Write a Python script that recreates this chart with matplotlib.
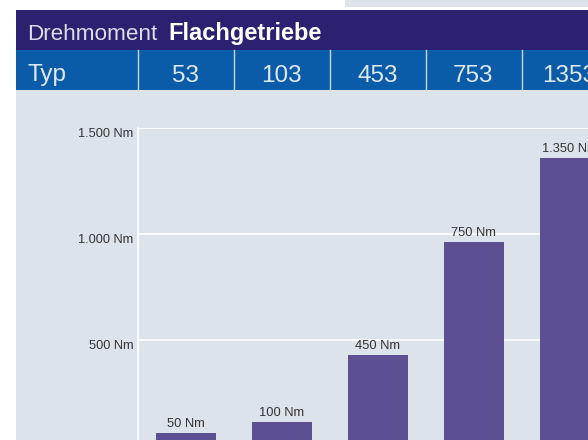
import matplotlib.pyplot as plt
from matplotlib.patches import Rectangle
from matplotlib.ticker import FuncFormatter

types = ['53', '103', '453', '753', '1353']
torque_labels = ['50 Nm', '100 Nm', '450 Nm', '750 Nm', '1.350 Nm']
# bar heights as drawn in the graphic, read against the grid
bar_heights = [64, 115, 431, 964, 1361]
y_ticks = [500, 1000, 1500]

W, H = 588, 440
purple = '#2c2170'
blue = '#0b5ca8'
bg = '#dde3ea'
bar_color = '#5d5092'

plt.rcParams['font.family'] = ['Liberation Sans', 'DejaVu Sans']

fig = plt.figure(figsize=(W / 100, H / 100), dpi=100)


def box(x0, y0, x1, y1, color):
    # pixel coords from top-left
    fig.add_artist(Rectangle((x0 / W, 1 - y1 / H), (x1 - x0) / W, (y1 - y0) / H,
                             transform=fig.transFigure, facecolor=color,
                             edgecolor='none', zorder=0))


box(345, 0, W, 7.5, bg)
box(16, 10, W, 50.5, purple)
box(16, 50.5, W, 90.5, blue)
box(16, 90.5, W, H, bg)

# header texts
fig.text(27 / W, 1 - 40 / H, 'Drehmoment', color='#dedbea', fontsize=16.2,
         va='baseline', ha='left')
fig.text(168.5 / W, 1 - 40 / H, 'Flachgetriebe', color='white', fontsize=17,
         fontweight='bold', va='baseline', ha='left')
fig.text(27 / W, 1 - 81 / H, 'Typ', color='#dfe8f3', fontsize=17.5,
         va='baseline', ha='left')

col_left = 137.5
col_w = 96
for i, t in enumerate(types):
    xc = col_left + col_w * (i + 0.5)
    fig.text(xc / W, 1 - 81.5 / H, t, color='#dfe8f3', fontsize=17.5,
             va='baseline', ha='center')
    xd = col_left + col_w * i
    fig.add_artist(plt.Line2D([xd / W, xd / W], [1 - 50.5 / H, 1 - 90.5 / H],
                              transform=fig.transFigure, color='#c9d7ea', lw=1))

# chart axes
ax_left, ax_top, ax_bottom = 137.5, 128.3, 446.3
ax = fig.add_axes([ax_left / W, 1 - ax_bottom / H, (W - ax_left) / W,
                   (ax_bottom - ax_top) / H])
ax.set_facecolor('none')
x = list(range(len(types)))
bars = ax.bar(x, bar_heights, width=0.625, color=bar_color, zorder=3)
for b, lab in zip(bars, torque_labels):
    ax.text(b.get_x() + b.get_width() / 2, b.get_height() + 12, lab,
            ha='center', va='bottom', fontsize=9.3, color='#333333', zorder=4)

ax.set_xlim(-0.5, -0.5 + (W - ax_left) / col_w)
ax.set_ylim(0, 1500)
ax.set_yticks(y_ticks)
ax.yaxis.set_major_formatter(FuncFormatter(lambda v, p: f'{int(v):,} Nm'.replace(',', '.')))
ax.tick_params(axis='y', length=0, pad=3, labelsize=9.2, labelcolor='#333333')
for lbl in ax.get_yticklabels():
    lbl.set_verticalalignment('top')
ax.set_xticks([])
ax.grid(axis='y', color='white', lw=1.2, zorder=1)
ax.set_axisbelow(True)
for s in ['top', 'right', 'bottom']:
    ax.spines[s].set_visible(False)
ax.spines['left'].set_color('white')
ax.spines['left'].set_linewidth(1.2)

plt.savefig('out.png', dpi=100)
